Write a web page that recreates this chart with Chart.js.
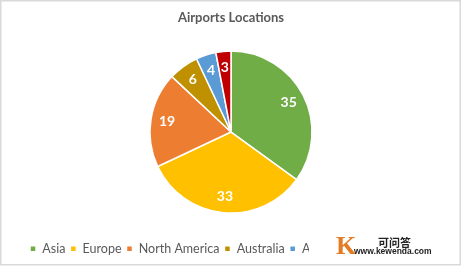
<!DOCTYPE html>
<html>
<head>
<meta charset="utf-8">
<script src="https://cdn.jsdelivr.net/npm/chart.js@4"></script>
<style>
  html, body { margin: 0; padding: 0; background: #ffffff; }
  #wrap { width: 462px; height: 266px; position: relative; }
</style>
</head>
<body>
<div id="wrap"><canvas id="c" width="462" height="266"></canvas></div>
<script>
// Continents and airport counts
const continents = ['Asia', 'Europe', 'North America', 'Australia', 'Africa', 'South America'];
const airports = [35, 33, 19, 6, 4, 3];
const sliceColors = ['#70AD47', '#FFC000', '#ED7D31', '#BF9000', '#5B9BD5', '#C00000'];
const chartTitle = 'Airports Locations';

// White value labels placed inside each slice
const sliceValues = {
  id: 'sliceValues',
  afterDatasetsDraw(chart) {
    const ctx = chart.ctx;
    const meta = chart.getDatasetMeta(0);
    const data = chart.data.datasets[0].data;
    ctx.save();
    ctx.fillStyle = '#ffffff';
    ctx.font = 'bold 14px Lato';
    ctx.textAlign = 'center';
    ctx.textBaseline = 'middle';
    meta.data.forEach((arc, i) => {
      const p = arc.getProps(['x', 'y', 'startAngle', 'endAngle', 'outerRadius'], true);
      const mid = (p.startAngle + p.endAngle) / 2;
      const r = p.outerRadius * 0.8;
      ctx.fillText(String(data[i]), p.x + Math.cos(mid) * r, p.y + Math.sin(mid) * r);
    });
    ctx.restore();
  }
};

// Chart frame, plus the site stamp in the lower right corner
const frame = {
  id: 'frame',
  afterDraw(chart) {
    const ctx = chart.ctx;
    ctx.save();
    ctx.fillStyle = '#ffffff';
    ctx.fillRect(309, 231, 148, 31);
    ctx.strokeStyle = '#d9d9d9';
    ctx.lineWidth = 1.5;
    ctx.strokeRect(0.75, 0.75, 459.5, 264);
    // stamp
    ctx.fillStyle = '#E47B24';
    ctx.font = 'bold 26px "Liberation Serif"';
    ctx.textBaseline = 'alphabetic';
    ctx.textAlign = 'left';
    ctx.fillText('K', 336, 254);
    ctx.fillStyle = '#222222';
    ctx.font = 'bold 11px "Noto Sans CJK SC"';
    ctx.fillText('可问答', 378, 247);
    ctx.font = 'bold 8.5px "Liberation Sans"';
    ctx.fillText('www.kewenda.com', 354, 254);
    ctx.restore();
  }
};

new Chart(document.getElementById('c'), {
  type: 'pie',
  data: {
    labels: continents,
    datasets: [{
      data: airports,
      backgroundColor: sliceColors,
      borderColor: '#ffffff',
      borderWidth: 1.5,
      radius: 81
    }]
  },
  options: {
    responsive: false,
    animation: false,
    layout: { padding: { top: 0, bottom: 1, left: 0, right: 0 } },
    plugins: {
      title: {
        display: true,
        text: chartTitle,
        color: '#595959',
        font: { family: 'Lato', size: 13, weight: 'bold' },
        padding: { top: 10, bottom: 1 }
      },
      legend: {
        position: 'bottom',
        labels: {
          color: '#595959',
          font: { family: 'Lato', size: 12.5 },
          boxWidth: 6,
          boxHeight: 6,
          padding: 5
        }
      },
      tooltip: { enabled: false }
    }
  },
  plugins: [sliceValues, frame]
});
</script>
</body>
</html>
